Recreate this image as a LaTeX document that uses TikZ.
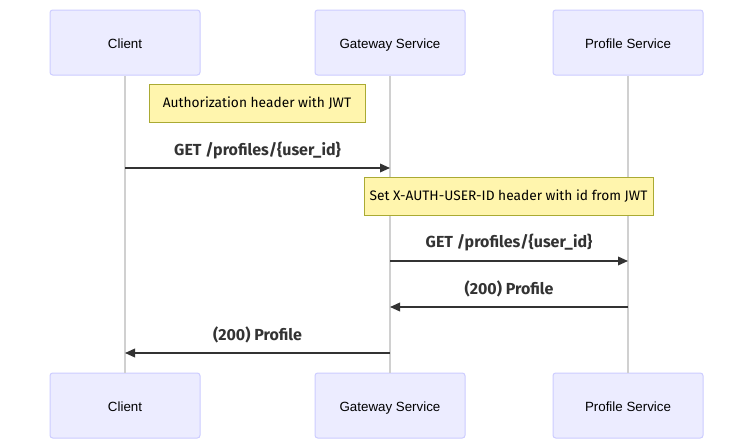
\documentclass[tikz,border=0pt]{standalone}
\usepackage{fontspec}
\setmainfont{Liberation Sans}
\newfontfamily\msgfont{Fira Sans}
\usetikzlibrary{arrows.meta}
\definecolor{actorfill}{HTML}{ECECFF}
\definecolor{actorline}{HTML}{CCCCFF}
\definecolor{notefill}{HTML}{FFF5AD}
\definecolor{noteline}{HTML}{AAAA33}
\definecolor{msgline}{HTML}{333333}
\definecolor{lifeline}{HTML}{D0D0D0}
\tikzset{
	actor/.style={draw=actorline, fill=actorfill, line width=0.75pt, rounded corners=2pt,
		minimum width=112.5pt, minimum height=48.75pt, text height=8.6pt, text depth=0pt,
		font=\fontsize{10}{12}\selectfont, text=black},
	note/.style={draw=noteline, fill=notefill, line width=0.75pt, inner sep=0pt,
		font=\msgfont\fontsize{10.3}{12}\selectfont, text=black},
	msg/.style={draw=msgline, line width=1.1pt, -{Triangle[length=7.5pt,width=6.5pt]}},
	msglabel/.style={font=\msgfont\bfseries\fontsize{12}{14}\selectfont, text=msgline},
	life/.style={draw=lifeline, line width=1.1pt}
}
\begin{document}
\begin{tikzpicture}[x=0.75pt,y=-0.75pt]
		%%%%% START %%%%%
		\useasboundingbox (0,0) rectangle (753,439);
		
		% actors
		\node[actor] (clientTop) at (125, 42.5) {Client};
		\node[actor] (gatewayTop) at (390, 42.5) {Gateway Service};
		\node[actor] (profileTop) at (628, 42.5) {Profile Service};
		\node[actor] (clientBot) at (125, 405.5) {Client};
		\node[actor] (gatewayBot) at (390, 405.5) {Gateway Service};
		\node[actor] (profileBot) at (628, 405.5) {Profile Service};
		
		% lifelines
		\draw[life] (clientTop) -- (clientBot);
		\draw[life] (gatewayTop) -- (gatewayBot);
		\draw[life] (profileTop) -- (profileBot);
		
		% notes
		\node[note, minimum width=162pt, minimum height=28.5pt] (jwtNote) at (257, 103) {Authorization header with JWT};
		\node[note, minimum width=216.75pt, minimum height=28.5pt] (idNote) at (508.5, 196) {Set X-AUTH-USER-ID header with id from JWT};
		
		% messages
		\coordinate (c1) at (125, 168);
		\coordinate (g1) at (390, 168);
		\coordinate (g2) at (390, 261);
		\coordinate (p2) at (628, 261);
		\coordinate (p3) at (628, 307);
		\coordinate (g3) at (390, 307);
		\coordinate (g4) at (390, 353);
		\coordinate (c4) at (125, 353);
		
		\draw[msg] (c1) -- (g1);
		\node[msglabel] (m1) at (257.5, 151) {GET /profiles/\{user\_id\}};
		\draw[msg] (g2) -- (p2);
		\node[msglabel] (m2) at (509, 243) {GET /profiles/\{user\_id\}};
		\draw[msg] (p3) -- (g3);
		\node[msglabel] (m3) at (509, 289) {(200) Profile};
		\draw[msg] (g4) -- (c4);
		\node[msglabel] (m4) at (257.5, 335) {(200) Profile};
		
		%%%%% END %%%%%
	\end{tikzpicture}
\end{document}
